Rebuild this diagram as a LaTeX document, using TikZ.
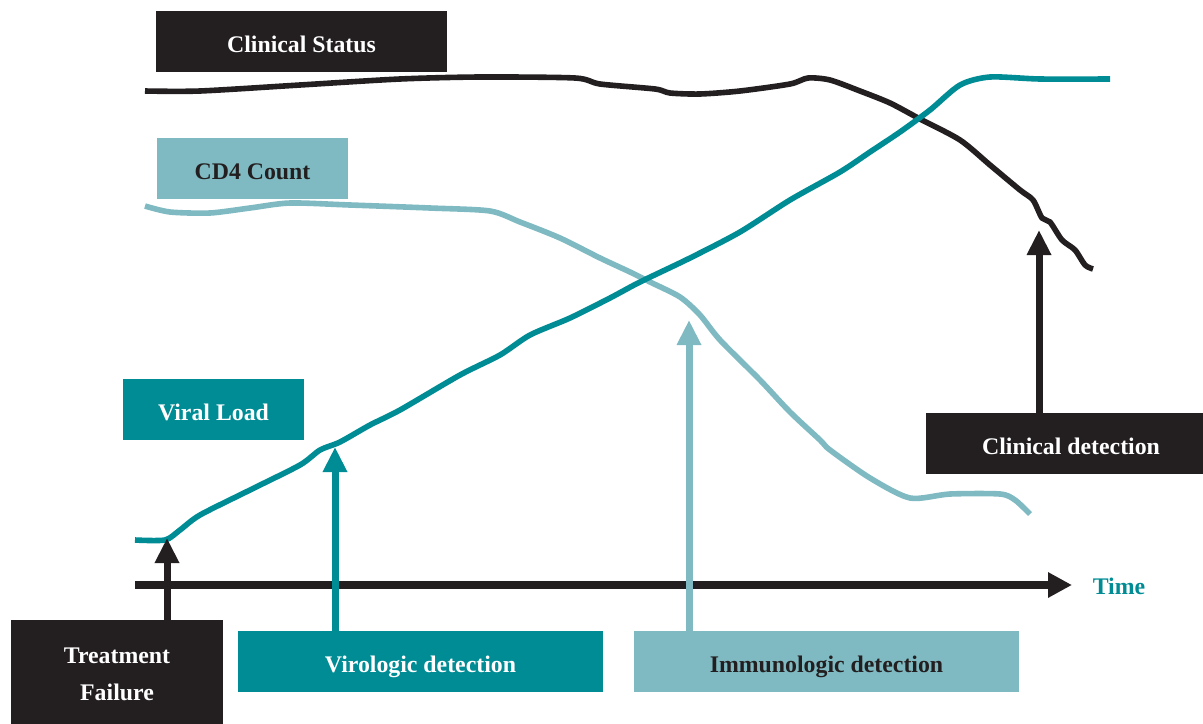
\documentclass[tikz,border=0pt]{standalone}
\usepackage{fontspec}
\setmainfont{Liberation Serif}
\usetikzlibrary{arrows.meta}
\definecolor{inkblack}{HTML}{231F20}
\definecolor{tealdark}{HTML}{008C95}
\definecolor{teallight}{HTML}{7FBAC2}
\begin{document}
\begin{tikzpicture}[x=0.5pt,y=-0.5pt,
  label box/.style={rectangle, inner sep=0pt, minimum height=30.5pt,
    text height=11pt, text depth=0pt,
    font=\fontsize{11.9}{14}\selectfont\bfseries, align=center},
  curve/.style={line width=2.8pt, line cap=butt, line join=round},
  up arrow/.style={line width=3.5pt,
    -{Triangle[length=12.5pt,width=11.5pt]}},
  axis arrow/.style={line width=3.8pt,
    -{Triangle[length=12pt,width=12pt]}}]
\useasboundingbox (0,0) rectangle (1203,723);

% label boxes
\node[label box, fill=inkblack, text=white, minimum width=145.5pt] (cs) at (301.5,41.5) {Clinical Status};
\node[label box, fill=teallight, text=inkblack, minimum width=95.5pt] (cd4) at (252.5,168.5) {CD4 Count};
\node[label box, fill=tealdark, text=white, minimum width=90.5pt] (vl) at (213.5,409.5) {Viral Load};
\node[label box, fill=inkblack, text=white, minimum width=145pt] (cdet) at (1071,443.5) {Clinical detection};
\node[rectangle, inner sep=0pt, fill=inkblack, text=white, align=center,
      minimum width=106pt, minimum height=54.5pt,
      font=\fontsize{11.9}{18.5}\selectfont\bfseries] (tf) at (117,674.5) {Treatment\\Failure};
\node[label box, fill=tealdark, text=white, minimum width=182.5pt] (vd) at (420.5,661.5) {Virologic detection};
\node[label box, fill=teallight, text=inkblack, minimum width=192.5pt] (idet) at (826.5,661.5) {Immunologic detection};

% time axis
\coordinate (t0) at (135,585);
\coordinate (t1) at (1072,585);
\draw[axis arrow, inkblack] (t0) -- (t1);
\node[font=\fontsize{11.9}{14}\selectfont\bfseries, text=tealdark] (time) at (1119,586) {Time};

% curves
\draw[curve, inkblack] plot[smooth, tension=0.45] coordinates {
  (145,91) (200,91) (300,85) (400,79) (480,77) (575,78) (600,84) (655,89)
  (670,93) (700,94) (740,91) (790,84) (808,78) (830,80) (860,91) (890,103)
  (920,119) (960,140) (990,165) (1020,190) (1033,200) (1042,218) (1050,222)
  (1062,240) (1075,250) (1085,265) (1093,269)};
\draw[curve, teallight] plot[smooth, tension=0.45] coordinates {
  (145,206) (170,212) (210,213) (250,208) (290,203) (350,205) (430,208)
  (490,211) (520,222) (560,238) (600,258) (630,272) (650,282) (680,297)
  (700,315) (720,340) (760,380) (790,412) (820,440) (830,450) (870,478)
  (910,498) (950,494) (1000,494) (1015,500) (1030,514)};
\draw[curve, tealdark] plot[smooth, tension=0.45] coordinates {
  (135,540) (165,540) (180,530) (200,515) (250,490) (300,465) (320,450)
  (340,442) (370,425) (400,410) (460,375) (500,355) (530,335) (570,318)
  (610,298) (640,282) (690,258) (740,232) (790,200) (840,172) (870,152)
  (900,132) (930,110) (960,85) (990,77) (1040,79) (1110,79)};

% detection arrows
\coordinate (tfTip) at (167,538);
\coordinate (vdTip) at (335,447);
\coordinate (idTip) at (689,320);
\coordinate (cdTip) at (1039,230);
\draw[up arrow, inkblack] (tf.north -| tfTip) -- (tfTip);
\draw[up arrow, tealdark] (vd.north -| vdTip) -- (vdTip);
\draw[up arrow, teallight] (idet.north -| idTip) -- (idTip);
\draw[up arrow, inkblack] (cdet.north -| cdTip) -- (cdTip);
\end{tikzpicture}
\end{document}
